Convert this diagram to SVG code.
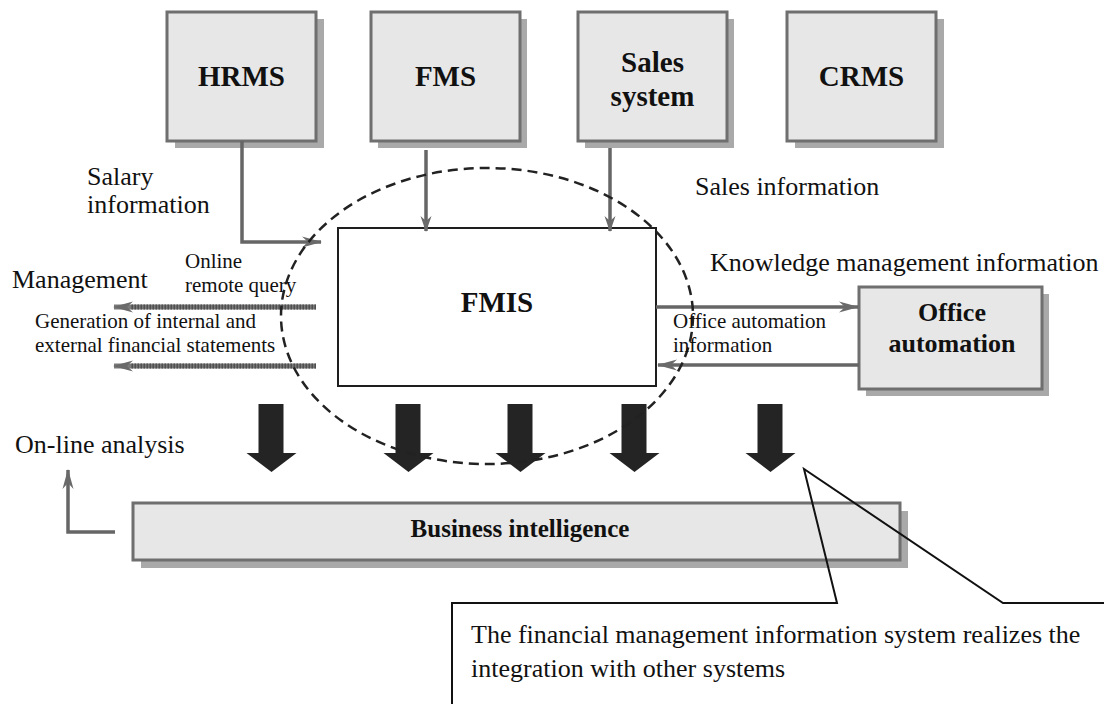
<svg xmlns="http://www.w3.org/2000/svg" width="1104" height="704" viewBox="0 0 1104 704">
  <defs>
    <marker id="barb" viewBox="0 0 20 12" refX="19" refY="6" markerWidth="20" markerHeight="12" markerUnits="userSpaceOnUse" orient="auto">
      <path d="M0,0.5 L20,6 L0,11.5 L6,6 Z" fill="#6a6a6a"/>
    </marker>
    <marker id="barbThin" viewBox="0 0 16 12" refX="15" refY="6" markerWidth="16" markerHeight="12" markerUnits="userSpaceOnUse" orient="auto">
      <path d="M0,0.5 L16,6 L0,11.5 L5,6 Z" fill="#6a6a6a"/>
    </marker>
  </defs>
  <style>
    .bg { fill: #ffffff; }
    .shadow { fill: #a9a9a9; }
    .box { fill: #e7e7e7; stroke: #6f6f6f; stroke-width: 3; }
    .core { fill: #ffffff; stroke: #1e1e1e; stroke-width: 2; }
    .title { font-family: "Liberation Serif", "Times New Roman", serif; font-weight: bold; font-size: 29px; fill: #111; text-anchor: middle; }
    .label { font-family: "Liberation Serif", "Times New Roman", serif; font-size: 26px; fill: #111; }
    .small { font-family: "Liberation Serif", "Times New Roman", serif; font-size: 21px; fill: #111; }
    .flow { fill: none; stroke: #666; stroke-width: 3.5; }
    .wide { fill: none; stroke: #7a7a7a; stroke-width: 5; }
    .wideTex { fill: none; stroke: #4f4f4f; stroke-width: 5; stroke-dasharray: 1.5 1.5; }
    .ring { fill: none; stroke: #222; stroke-width: 2.5; stroke-dasharray: 10 6; }
    .bigArrow { fill: #242424; }
    .callout { fill: none; stroke: #111; stroke-width: 2; }
  </style>

  <rect class="bg" x="0" y="0" width="1104" height="704"/>

  <!-- source systems -->
  <g id="hrms">
    <rect class="shadow" x="175" y="19" width="149" height="129"/>
    <rect class="box" x="167" y="12" width="149" height="129"/>
    <text class="title" x="241.5" y="86">HRMS</text>
  </g>
  <g id="fms">
    <rect class="shadow" x="378" y="19" width="149" height="129"/>
    <rect class="box" x="371" y="12" width="149" height="129"/>
    <text class="title" x="445.5" y="86">FMS</text>
  </g>
  <g id="sales-system">
    <rect class="shadow" x="585" y="19" width="149" height="129"/>
    <rect class="box" x="578" y="12" width="149" height="129"/>
    <text class="title" x="652.5" y="72">Sales</text>
    <text class="title" x="652.5" y="106">system</text>
  </g>
  <g id="crms">
    <rect class="shadow" x="795" y="19" width="149" height="129"/>
    <rect class="box" x="787" y="12" width="149" height="129"/>
    <text class="title" x="861.5" y="86">CRMS</text>
  </g>

  <!-- central system -->
  <g id="fmis">
    <rect class="core" x="338" y="228" width="318" height="158"/>
    <text class="title" x="497" y="312">FMIS</text>
  </g>

  <g id="office-automation">
    <rect class="shadow" x="866" y="294" width="183" height="102"/>
    <rect class="box" x="859" y="287" width="183" height="102"/>
    <text class="title" x="952" y="321" style="font-size:26px">Office</text>
    <text class="title" x="952" y="352" style="font-size:26px">automation</text>
  </g>

  <g id="business-intelligence">
    <rect class="shadow" x="141" y="511" width="767" height="57"/>
    <rect class="box" x="133" y="503" width="767" height="57"/>
    <text class="title" x="520" y="537" style="font-size:25px">Business intelligence</text>
  </g>

  <!-- connectors -->
  <g id="connectors">
    <path class="flow" d="M242,141 V242 H321" marker-end="url(#barb)"/>
    <path class="flow" d="M426,150 V231" marker-end="url(#barbThin)"/>
    <path class="flow" d="M610,148 V231" marker-end="url(#barbThin)"/>

    <path class="flow" d="M656,307 H858" marker-end="url(#barb)"/>
    <path class="flow" d="M859,365 H658" marker-end="url(#barb)"/>

    <path class="wide" d="M316,307 H114" marker-end="url(#barb)"/>
    <path class="wideTex" d="M316,307 H130"/>
    <path class="wide" d="M316,366 H114" marker-end="url(#barb)"/>
    <path class="wideTex" d="M316,366 H130"/>

    <path class="flow" d="M115,532 H68 V470" marker-end="url(#barb)"/>

    <path class="bigArrow" d="M258.5,404 h25 v49 h13 l-25,19 l-25,-19 h12 z"/>
    <path class="bigArrow" d="M395.5,404 h25 v49 h13 l-25,19 l-25,-19 h12 z"/>
    <path class="bigArrow" d="M507.5,404 h25 v49 h13 l-25,19 l-25,-19 h12 z"/>
    <path class="bigArrow" d="M621.5,404 h25 v49 h13 l-25,19 l-25,-19 h12 z"/>
    <path class="bigArrow" d="M757.5,404 h25 v49 h13 l-25,19 l-25,-19 h12 z"/>

    <ellipse class="ring" cx="487" cy="316" rx="206" ry="148"/>

    <path class="callout" d="M452,704 V603 H837 L804,469 L1003,603 H1104"/>
  </g>

  <!-- labels -->
  <g id="labels">
    <text class="label" x="87" y="185">Salary</text>
    <text class="label" x="87" y="213">information</text>
    <text class="label" x="695" y="195">Sales information</text>
    <text class="label" x="710" y="271">Knowledge management information</text>
    <text class="label" x="12" y="288">Management</text>
    <text class="small" x="185" y="268">Online</text>
    <text class="small" x="185" y="292">remote query</text>
    <text class="small" x="35" y="328">Generation of internal and</text>
    <text class="small" x="35" y="352">external financial statements</text>
    <text class="small" x="673" y="328">Office automation</text>
    <text class="small" x="673" y="352">information</text>
    <text class="label" x="15" y="453">On-line analysis</text>
    <text class="label" x="471" y="643">The financial management information system realizes the</text>
    <text class="label" x="471" y="677">integration with other systems</text>
  </g>
</svg>
